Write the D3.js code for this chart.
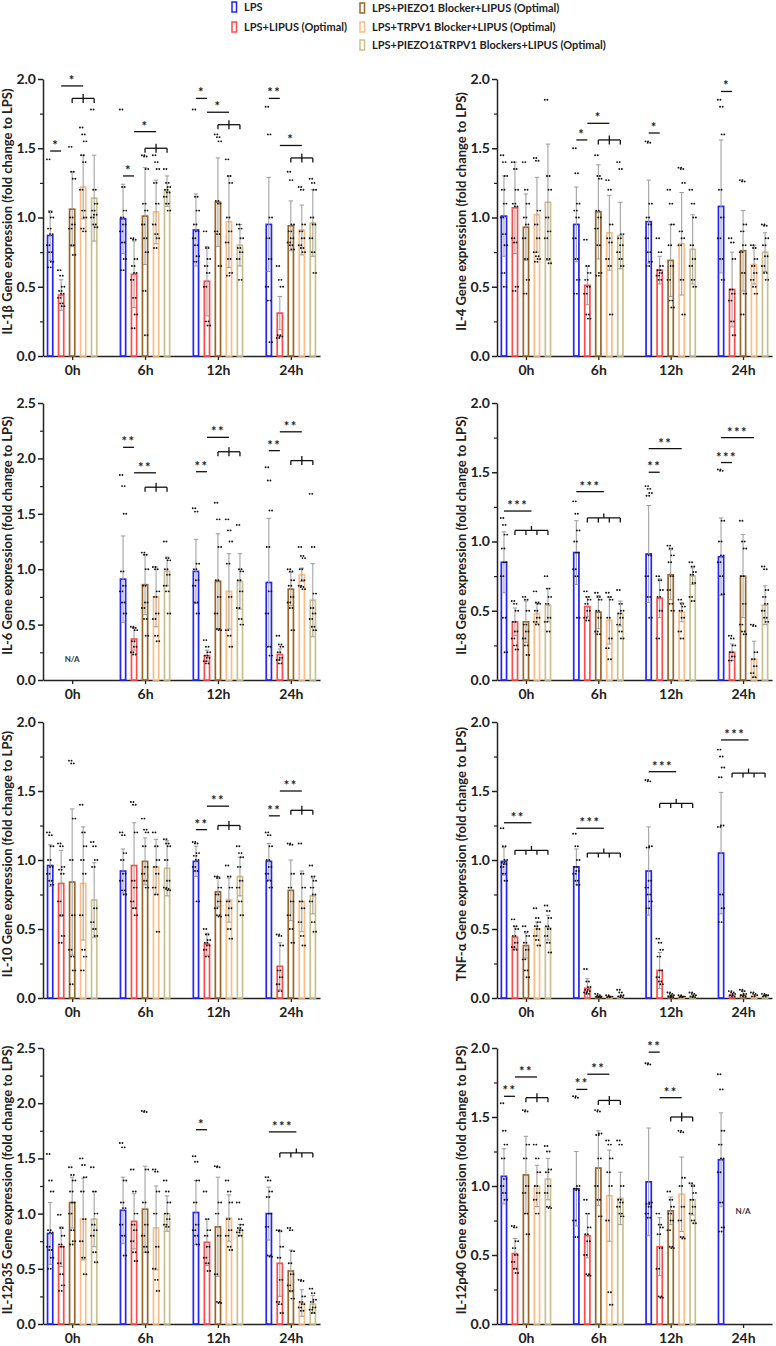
<!DOCTYPE html>
<html>
<head>
<meta charset="utf-8">
<script src="https://cdn.jsdelivr.net/npm/d3@7"></script>
<style>
  body { margin: 0; background: #fff; }
  text { font-family: Lato, "Open Sans", sans-serif; }
</style>
</head>
<body>
<div id="vis-container"></div>
<script>
// ---- data ----
const times = ["0h", "6h", "12h", "24h"];
const groups = ["LPS", "LPS+LIPUS (Optimal)", "LPS+PIEZO1 Blocker+LIPUS (Optimal)",
                "LPS+TRPV1 Blocker+LIPUS (Optimal)", "LPS+PIEZO1&TRPV1 Blockers+LIPUS (Optimal)"];
const colors = ["#2323ff", "#ff4b4b", "#9a6528", "#fbbd84", "#c9c08e"];

// means [time][group], sd [time][group]
const il1bMean = [[0.87,0.44,1.06,1.22,1.14],[0.99,0.59,1.01,1.04,1.19],[0.91,0.54,1.11,0.97,0.80],[0.95,0.31,0.94,0.91,0.96]];
const il1bSd   = [[0.18,0.11,0.27,0.23,0.31],[0.25,0.24,0.35,0.23,0.11],[0.26,0.25,0.32,0.33,0.15],[0.34,0.12,0.18,0.18,0.24]];
const il4Mean  = [[1.01,1.07,0.93,1.02,1.11],[0.95,0.51,1.04,0.89,0.87],[0.97,0.62,0.69,0.81,0.77],[1.08,0.48,0.76,0.66,0.75]];
const il4Sd    = [[0.29,0.33,0.24,0.27,0.42],[0.27,0.14,0.34,0.27,0.24],[0.30,0.10,0.26,0.37,0.25],[0.48,0.27,0.29,0.14,0.14]];
const il6Mean  = [[null,null,null,null,null],[0.91,0.37,0.86,0.75,0.98],[0.98,0.22,0.89,0.80,0.89],[0.88,0.23,0.82,0.95,0.72]];
const il6Sd    = [[0,0,0,0,0],[0.39,0.10,0.27,0.27,0.13],[0.29,0.05,0.43,0.34,0.25],[0.58,0.05,0.15,0.06,0.33]];
const il8Mean  = [[0.85,0.42,0.42,0.48,0.54],[0.92,0.53,0.49,0.43,0.48],[0.91,0.59,0.76,0.49,0.75],[0.89,0.20,0.75,0.15,0.54]];
const il8Sd    = [[0.22,0.10,0.15,0.07,0.12],[0.23,0.07,0.12,0.17,0.09],[0.35,0.14,0.18,0.07,0.06],[0.28,0.06,0.30,0.13,0.14]];
const il10Mean = [[0.96,0.83,0.84,0.83,0.71],[0.92,0.96,0.99,0.95,0.94],[0.99,0.39,0.77,0.71,0.88],[0.99,0.23,0.78,0.70,0.74]];
const il10Sd   = [[0.15,0.24,0.53,0.41,0.27],[0.16,0.31,0.17,0.20,0.20],[0.11,0.08,0.11,0.16,0.14],[0.13,0.17,0.22,0.22,0.13]];
const tnfMean  = [[0.99,0.44,0.38,0.50,0.51],[0.95,0.07,0.01,0.01,0.015],[0.92,0.20,0.015,0.01,0.015],[1.05,0.02,0.02,0.015,0.015]];
const tnfSd    = [[0.10,0.08,0.09,0.05,0.09],[0.13,0.07,0.01,0.005,0.01],[0.32,0.13,0.01,0.005,0.01],[0.44,0.01,0.03,0.01,0.01]];
const p35Mean  = [[0.82,0.70,1.10,0.95,0.95],[1.03,0.93,1.04,0.87,1.00],[1.01,0.74,0.88,0.96,0.85],[1.00,0.55,0.48,0.19,0.18]];
const p35Sd    = [[0.28,0.18,0.23,0.37,0.25],[0.30,0.25,0.39,0.38,0.16],[0.29,0.21,0.45,0.21,0.05],[0.24,0.30,0.19,0.12,0.08]];
const p40Mean  = [[1.07,0.51,1.08,1.00,1.05],[0.98,0.64,1.13,0.93,0.91],[1.03,0.56,0.82,0.94,0.90],[1.19,null,null,null,null]];
const p40Sd    = [[0.20,0.11,0.28,0.15,0.15],[0.27,0.16,0.27,0.33,0.19],[0.39,0.21,0.10,0.27,0.11],[0.34,0,0,0,0]];

// individual points [time][group][]
const il1bDots = [
  [[1.42,1.04,1.0,0.92,0.88,0.8,0.75,0.68,0.64],[0.62,0.58,0.5,0.47,0.45,0.42,0.38,0.36],[1.51,1.33,1.28,1.0,0.95,0.92,0.8,0.73],[1.65,1.6,1.55,1.45,1.4,1.2,1.05,1.0,0.92,0.9],[1.78,1.2,1.1,1.05,1.02,1.0,0.95,0.93]],
  [[1.78,1.22,1.05,1.0,0.95,0.9,0.82,0.7,0.62],[0.85,0.84,0.7,0.65,0.6,0.55,0.42,0.3,0.2],[1.45,1.44,1.35,1.1,1.05,0.95,0.85,0.75,0.47,0.15],[1.45,1.4,1.35,1.25,1.1,0.95,0.88,0.85,0.78],[1.35,1.25,1.22,1.2,1.18,1.15,1.1,1.05]],
  [[1.78,1.15,1.05,0.95,0.9,0.85,0.8,0.72,0.68],[0.9,0.78,0.7,0.65,0.6,0.5,0.25,0.22],[1.6,1.58,1.55,1.12,1.1,0.9,0.88,0.65],[1.42,1.3,1.25,1.0,0.9,0.82,0.7,0.6,0.58],[0.95,0.92,0.85,0.78,0.75,0.7,0.55]],
  [[1.8,1.6,1.0,0.85,0.7,0.5,0.4,0.1],[0.65,0.55,0.5,0.15,0.14,0.13],[1.33,1.27,0.95,0.9,0.85,0.82,0.8,0.77],[1.22,1.2,0.95,0.9,0.85,0.8,0.78,0.75],[1.28,1.25,1.2,1.0,0.95,0.85,0.75,0.6]]
];
const il4Dots = [
  [[1.45,1.4,1.3,1.2,1.1,1.0,0.88,0.8,0.6,0.5],[1.4,1.35,1.2,1.1,1.08,0.85,0.82,0.5,0.47],[1.4,1.2,1.1,1.0,0.95,0.85,0.7,0.55,0.45],[1.43,1.41,1.05,0.95,0.85,0.75,0.72,0.7,0.68],[1.85,1.3,1.2,1.0,0.9,0.85,0.7,0.67]],
  [[1.5,1.32,1.1,1.05,1.0,0.85,0.7,0.55,0.45],[0.84,0.65,0.6,0.55,0.5,0.45,0.3,0.27],[1.45,1.3,1.28,1.05,1.0,0.92,0.8,0.6,0.58],[1.27,1.2,0.95,0.85,0.82,0.7,0.65,0.3],[1.4,1.35,0.88,0.85,0.8,0.75,0.7,0.65]],
  [[1.55,1.54,1.1,1.0,0.95,0.85,0.75,0.68,0.65],[0.85,0.75,0.65,0.62,0.6,0.58,0.55],[1.2,1.1,0.95,0.8,0.65,0.55,0.4,0.35],[1.36,1.35,1.25,0.9,0.85,0.8,0.55,0.3],[1.2,1.1,1.0,0.8,0.7,0.65,0.55,0.5]],
  [[1.85,1.8,1.6,1.2,1.0,0.85,0.7,0.55],[0.85,0.82,0.7,0.48,0.45,0.4,0.25,0.15],[1.27,1.26,0.95,0.9,0.8,0.75,0.6,0.45,0.3],[0.8,0.78,0.7,0.65,0.6,0.55,0.5,0.45],[0.95,0.94,0.85,0.8,0.72,0.65,0.6,0.55]]
];
const il6Dots = [
  [[],[],[],[],[]],
  [[1.85,1.75,1.5,0.98,0.85,0.8,0.7,0.6],[0.48,0.47,0.45,0.35,0.3,0.25,0.23],[1.15,1.13,1.0,0.85,0.7,0.65,0.55,0.4],[1.02,1.0,0.8,0.75,0.6,0.55,0.4,0.35],[1.25,1.1,1.08,1.0,0.95,0.85,0.8,0.6]],
  [[1.55,1.52,1.05,1.0,0.9,0.85,0.7,0.6],[0.36,0.3,0.25,0.22,0.2,0.17,0.15],[1.6,1.45,1.2,0.9,0.75,0.6,0.46,0.45],[1.45,1.35,1.25,1.05,0.75,0.45,0.4,0.3],[1.4,1.0,0.98,0.9,0.8,0.65,0.55,0.5]],
  [[1.92,1.8,1.53,1.2,0.8,0.6,0.3,0.22],[0.4,0.32,0.3,0.25,0.2,0.18,0.15],[1.0,0.98,0.9,0.85,0.75,0.7,0.65,0.45],[1.2,1.12,1.1,1.0,0.9,0.85,0.84,0.82],[1.68,1.2,0.78,0.65,0.6,0.55,0.48,0.45]]
];
const il8Dots = [
  [[1.17,1.12,1.05,0.95,0.85,0.75,0.45,0.2],[0.57,0.55,0.5,0.42,0.35,0.3,0.25,0.22],[0.6,0.58,0.5,0.4,0.35,0.3,0.25,0.18],[0.64,0.56,0.55,0.5,0.45,0.42,0.4],[0.75,0.66,0.6,0.55,0.45,0.42,0.35]],
  [[1.29,1.2,1.08,1.0,0.92,0.8,0.75,0.45],[0.64,0.6,0.58,0.55,0.5,0.45,0.43],[0.63,0.6,0.58,0.5,0.45,0.35,0.33],[0.63,0.6,0.58,0.45,0.3,0.23,0.15],[0.65,0.55,0.5,0.48,0.45,0.4,0.35,0.3]],
  [[1.4,1.38,1.35,1.33,0.9,0.75,0.6,0.45],[0.75,0.72,0.65,0.6,0.5,0.3],[0.97,0.95,0.9,0.85,0.75,0.65,0.55,0.5],[0.58,0.55,0.53,0.5,0.45,0.35,0.3],[0.85,0.82,0.78,0.76,0.7,0.6,0.57]],
  [[1.52,1.51,1.15,1.0,0.9,0.85,0.75,0.62],[0.32,0.3,0.25,0.2,0.17,0.14],[1.15,1.0,0.95,0.75,0.55,0.4,0.35,0.33],[0.4,0.39,0.2,0.15,0.1,0.05,0.02],[0.82,0.8,0.65,0.6,0.55,0.5,0.45,0.42]]
];
const il10Dots = [
  [[1.2,1.18,1.1,1.0,0.95,0.9,0.85,0.82],[1.12,1.1,0.95,0.93,0.9,0.7,0.6,0.45,0.4],[1.72,1.7,1.3,1.0,0.6,0.35,0.3,0.2,0.1],[1.4,1.2,1.1,1.0,0.9,0.6,0.35,0.3,0.2],[1.13,1.1,1.0,0.95,0.65,0.55,0.5,0.45]],
  [[1.2,1.18,1.05,1.0,0.9,0.85,0.78,0.75],[1.42,1.4,1.2,0.85,0.8,0.7,0.65,0.6],[1.3,1.22,1.2,1.1,0.95,0.9,0.85,0.8],[1.2,1.1,1.0,0.95,0.9,0.8,0.75,0.48],[1.15,1.12,1.1,1.0,0.85,0.8,0.79,0.78]],
  [[1.13,1.12,1.05,1.03,1.0,0.95,0.92,0.7],[0.5,0.46,0.42,0.4,0.38,0.35,0.3],[0.88,0.87,0.8,0.75,0.7,0.65,0.6,0.59],[0.96,0.88,0.8,0.7,0.65,0.6,0.5,0.43],[1.1,1.05,1.02,0.95,0.85,0.8,0.7,0.6]],
  [[1.2,1.18,1.1,1.0,0.95,0.9,0.85,0.8],[0.46,0.45,0.38,0.2,0.15,0.1,0.05],[1.12,1.11,0.9,0.8,0.7,0.6,0.5,0.4],[1.12,0.9,0.8,0.7,0.65,0.55,0.45,0.38],[0.96,0.88,0.85,0.8,0.75,0.7,0.55,0.48]]
];
const tnfDots = [
  [[1.23,1.1,1.0,0.98,0.97,0.95,0.9,0.85],[0.57,0.52,0.5,0.45,0.4,0.37,0.35],[0.52,0.48,0.45,0.4,0.35,0.28,0.2,0.15],[0.65,0.58,0.55,0.52,0.5,0.45,0.42,0.38],[0.67,0.63,0.58,0.52,0.5,0.45,0.4,0.33]],
  [[1.19,1.1,1.0,0.95,0.92,0.9,0.85,0.82],[0.21,0.12,0.08,0.06,0.05,0.04,0.03],[0.03,0.02,0.01,0.01,0.005],[0.02,0.01,0.01,0.005],[0.06,0.04,0.02,0.01,0.005]],
  [[1.58,1.57,1.1,1.09,0.85,0.8,0.75,0.7,0.65],[0.43,0.4,0.35,0.3,0.2,0.15,0.12,0.1],[0.04,0.03,0.02,0.01,0.005],[0.02,0.01,0.01,0.005],[0.04,0.03,0.02,0.01,0.005]],
  [[1.8,1.75,1.67,1.6,1.25,1.24,0.75,0.65,0.55],[0.05,0.04,0.03,0.02,0.01],[0.06,0.05,0.03,0.02,0.01],[0.04,0.03,0.02,0.01],[0.03,0.02,0.02,0.01]]
];
const p35Dots = [
  [[1.54,1.3,1.2,0.85,0.83,0.7,0.67,0.6,0.5],[0.99,0.87,0.8,0.72,0.7,0.55,0.45,0.35,0.3],[1.42,1.35,1.3,1.2,1.1,1.0,0.85,0.75,0.72],[1.5,1.44,1.33,1.2,0.95,0.75,0.6,0.45],[1.42,1.2,1.0,0.9,0.85,0.8,0.65,0.56]],
  [[1.64,1.6,1.3,1.1,1.05,0.9,0.8,0.62],[1.4,1.2,1.0,0.9,0.85,0.75,0.65,0.57],[1.93,1.92,1.4,1.1,0.9,0.8,0.7,0.65],[1.4,1.38,1.2,1.0,0.7,0.5,0.4,0.3],[1.3,1.2,1.1,1.0,0.95,0.9,0.88]],
  [[1.52,1.47,1.3,1.1,0.9,0.85,0.8,0.72],[1.2,0.95,0.85,0.8,0.7,0.6,0.55,0.48],[1.43,1.42,1.1,1.0,0.8,0.45,0.2,0.19],[1.3,1.2,1.1,0.95,0.85,0.8,0.7,0.67],[1.1,0.95,0.9,0.87,0.85,0.83,0.8]],
  [[1.33,1.3,1.2,1.15,1.0,0.88,0.62,0.61],[0.85,0.84,0.7,0.6,0.4,0.2,0.18,0.1],[0.87,0.85,0.66,0.55,0.45,0.35,0.3,0.23],[0.4,0.39,0.25,0.2,0.18,0.15,0.12],[0.32,0.28,0.22,0.2,0.15,0.13,0.1]]
];
const p40Dots = [
  [[1.6,1.4,1.3,1.2,1.05,1.0,0.95,0.9],[0.71,0.7,0.6,0.55,0.5,0.45,0.4,0.37],[1.55,1.54,1.3,1.2,1.0,0.95,0.8,0.65],[1.3,1.2,1.1,1.0,0.95,0.9,0.8],[1.29,1.25,1.12,1.1,1.0,0.95,0.85,0.84]],
  [[1.65,1.64,1.0,0.98,0.97,0.75,0.63],[0.9,0.8,0.7,0.65,0.6,0.5,0.36,0.35],[1.55,1.54,1.38,1.37,1.2,1.0,0.9,0.78],[1.33,1.3,1.2,1.1,1.0,0.75,0.23,0.14],[1.33,1.3,1.0,0.9,0.88,0.85,0.8,0.78]],
  [[1.89,1.88,0.88,0.87,0.85,0.8,0.77],[0.8,0.72,0.7,0.65,0.55,0.4,0.2,0.19],[0.96,0.9,0.85,0.8,0.75,0.68,0.56,0.55],[1.4,1.39,1.06,1.0,0.85,0.75,0.63,0.62],[1.02,1.0,0.95,0.9,0.85,0.8,0.75,0.73]],
  [[1.81,1.7,1.4,1.3,1.2,1.1,0.88,0.7,0.67],[],[],[],[]]
];

// significance: [time, fromBar, toBar0, toBar1, lineY, bracketY, label]
const il1bSig = [[0,0,1,1,1.48,null,"*"],[0,1,2,4,1.95,1.86,"*"],[1,0,1,1,1.30,null,"*"],[1,1,2,4,1.62,1.50,"*"],
                 [2,0,1,1,1.86,null,"*"],[2,1,2,4,1.76,1.67,"*"],[3,0,1,1,1.86,null,"**"],[3,1,2,4,1.52,1.43,"*"]];
const il4Sig  = [[1,0,1,1,1.56,null,"*"],[1,1,2,4,1.68,1.56,"*"],[2,0,1,1,1.61,null,"*"],[3,0,1,1,1.91,null,"*"]];
const il6Sig  = [[1,0,1,1,2.10,null,"**"],[1,1,2,4,1.87,1.74,"**"],[2,0,1,1,1.88,null,"**"],[2,1,2,4,2.19,2.06,"**"],
                 [3,0,1,1,2.07,null,"**"],[3,1,2,4,2.24,1.98,"**"]];
const il8Sig  = [[0,0,1,4,1.22,1.08,"***"],[1,0,1,4,1.36,1.17,"***"],[2,0,1,1,1.50,null,"**"],[2,0,3,3,1.67,null,"**"],
                 [3,0,1,1,1.57,null,"***"],[3,0,3,3,1.75,null,"***"]];
const il10Sig = [[2,0,1,1,1.22,null,"**"],[2,1,2,4,1.39,1.25,"**"],[3,0,1,1,1.32,null,"**"],[3,1,2,4,1.50,1.36,"**"]];
const tnfSig  = [[0,0,1,4,1.27,1.07,"**"],[1,0,1,4,1.23,1.05,"***"],[2,0,1,4,1.64,1.41,"***"],[3,0,1,4,1.87,1.63,"***"]];
const p35Sig  = [[2,0,1,1,1.76,null,"*"],[3,0,1,4,1.74,1.55,"***"]];
const p40Sig  = [[0,0,1,1,1.65,null,"**"],[0,1,2,4,1.79,1.64,"**"],[1,0,1,1,1.70,null,"**"],[1,1,2,4,1.81,1.62,"**"],
                 [2,0,1,1,1.97,null,"**"],[2,1,2,4,1.64,1.50,"**"]];

const panels = [
  {gene: "IL-1β",    yMax: 2.0, mean: il1bMean, sd: il1bSd, dots: il1bDots, sig: il1bSig, col: 0, row: 0},
  {gene: "IL-4",     yMax: 2.0, mean: il4Mean,  sd: il4Sd,  dots: il4Dots,  sig: il4Sig,  col: 1, row: 0},
  {gene: "IL-6",     yMax: 2.5, mean: il6Mean,  sd: il6Sd,  dots: il6Dots,  sig: il6Sig,  col: 0, row: 1, na: [0, 0.19]},
  {gene: "IL-8",     yMax: 2.0, mean: il8Mean,  sd: il8Sd,  dots: il8Dots,  sig: il8Sig,  col: 1, row: 1},
  {gene: "IL-10",    yMax: 2.0, mean: il10Mean, sd: il10Sd, dots: il10Dots, sig: il10Sig, col: 0, row: 2},
  {gene: "TNF-α",    yMax: 2.0, mean: tnfMean,  sd: tnfSd,  dots: tnfDots,  sig: tnfSig,  col: 1, row: 2},
  {gene: "IL-12p35", yMax: 2.5, mean: p35Mean,  sd: p35Sd,  dots: p35Dots,  sig: p35Sig,  col: 0, row: 3},
  {gene: "IL-12p40", yMax: 2.0, mean: p40Mean,  sd: p40Sd,  dots: p40Dots,  sig: p40Sig,  col: 1, row: 3, na: [3, 0.82]}
];

// ---- layout ----
const W = 776, H = 1346;
const colX = [[43, 320], [497, 772]];
const rowY = [[79, 356], [403, 680], [722, 998], [1048, 1324]];

let svg = d3.select("#vis-container")
            .append("svg")
            .attr("width", W)
            .attr("height", H);

// legend
const legendPos = [[232, 7], [232, 27], [360, 8], [360, 27], [360, 45]];
let legend = svg.append("g");
groups.forEach((g, i) => {
  legend.append("rect")
    .attr("x", legendPos[i][0]).attr("y", legendPos[i][1] - 5)
    .attr("width", 4.5).attr("height", 10)
    .attr("fill", "none").attr("stroke", colors[i]).attr("stroke-width", 1.5);
  legend.append("text")
    .attr("x", legendPos[i][0] + 12).attr("y", legendPos[i][1] + 4)
    .attr("font-size", "11px").attr("font-weight", 700).attr("fill", "#222")
    .text(g);
});

const xb = d3.scaleBand().domain(d3.range(5)).range([-27.5, 27.5]).paddingInner(0.4).paddingOuter(0.2);

panels.forEach(p => {
  const [ax, axEnd] = colX[p.col];
  const [top, bottom] = rowY[p.row];
  const x = d3.scalePoint().domain(times).range([ax, axEnd]).padding(0.4);
  const y = d3.scaleLinear().domain([0, p.yMax]).range([bottom, top]);
  const cx = (t, g) => x(times[t]) + xb(g) + xb.bandwidth() / 2;
  const g = svg.append("g");

  // y axis, minor ticks first
  const minor = d3.range(0.25, p.yMax, 0.5);
  g.append("g")
    .attr("transform", `translate(${ax},0)`)
    .call(d3.axisLeft(y).tickValues(minor).tickSize(3).tickFormat(""))
    .call(a => a.select(".domain").remove())
    .selectAll("line").attr("stroke", "#222").attr("stroke-width", 1.2);
  const ya = g.append("g")
    .attr("transform", `translate(${ax},0)`)
    .call(d3.axisLeft(y).tickValues(d3.range(0, p.yMax + 0.01, 0.5)).tickSize(5).tickSizeOuter(0).tickFormat(d3.format(".1f")));
  ya.select(".domain").attr("stroke", "#222").attr("stroke-width", 1.5);
  ya.selectAll("line").attr("stroke", "#222").attr("stroke-width", 1.5);
  ya.selectAll("text").attr("font-size", "14px").attr("font-weight", 700).attr("fill", "#222")
    .attr("font-family", "Lato, sans-serif").attr("x", -7);

  // x axis
  const xa = g.append("g")
    .attr("transform", `translate(0,${bottom})`)
    .call(d3.axisBottom(x).tickSize(4).tickSizeOuter(0));
  xa.select(".domain").attr("stroke", "#222").attr("stroke-width", 1.5);
  xa.selectAll("line").attr("stroke", "#222").attr("stroke-width", 1.3);
  xa.selectAll("text").attr("font-size", "14px").attr("font-weight", 700).attr("fill", "#222")
    .attr("font-family", "Lato, sans-serif").attr("y", 9);

  // y title
  g.append("text")
    .attr("transform", `translate(${ax - 31},${(top + bottom) / 2 - 6}) rotate(-90)`)
    .attr("text-anchor", "middle")
    .attr("font-size", "13px").attr("font-weight", 700).attr("fill", "#222")
    .text(p.gene + " Gene expression (fold change to LPS)");

  // bars, error bars, dots
  p.mean.forEach((row, t) => {
    row.forEach((m, k) => {
      if (m === null) return;
      const c = cx(t, k);
      g.append("rect")
        .attr("x", c - 2.6).attr("width", 5.2)
        .attr("y", y(m)).attr("height", y(0) - y(m))
        .attr("fill", "#fff").attr("stroke", colors[k]).attr("stroke-width", 1.7);
    });
  });
  p.mean.forEach((row, t) => {
    row.forEach((m, k) => {
      if (m === null) return;
      const s = p.sd[t][k];
      if (s <= 0.012) return;
      const c = cx(t, k);
      const lo = Math.max(0, m - s), hi = m + s;
      g.append("line").attr("x1", c).attr("x2", c).attr("y1", y(lo)).attr("y2", y(hi))
        .attr("stroke", "#9a9a9a").attr("stroke-width", 1);
      [lo, hi].forEach(v => g.append("line").attr("x1", c - 2.2).attr("x2", c + 2.2)
        .attr("y1", y(v)).attr("y2", y(v)).attr("stroke", "#9a9a9a").attr("stroke-width", 1));
    });
  });
  const jit = [-1.9, 0.3, 1.9, -0.8, 1.2];
  p.dots.forEach((row, t) => {
    row.forEach((vals, k) => {
      const c = cx(t, k);
      vals.forEach((v, i) => {
        const c0 = c + jit[i % 5];
        [-1.3, 1.3].forEach(o => {
          g.append("circle").attr("cx", c0 + o).attr("cy", y(v)).attr("r", 0.95).attr("fill", "#111");
        });
      });
    });
  });

  // significance lines and brackets
  p.sig.forEach(([t, a, b0, b1, ly, by, lab]) => {
    const xa0 = cx(t, a);
    let xEnd = cx(t, b0);
    if (b1 !== b0) {
      const bl = cx(t, b0), br = cx(t, b1), bc = (bl + br) / 2;
      xEnd = bc;
      g.append("line").attr("x1", bl).attr("x2", br).attr("y1", y(by)).attr("y2", y(by))
        .attr("stroke", "#111").attr("stroke-width", 1.3);
      d3.range(b0, b1 + 1).forEach(k => {
        g.append("line").attr("x1", cx(t, k)).attr("x2", cx(t, k))
          .attr("y1", y(by)).attr("y2", y(by) + 4.5).attr("stroke", "#111").attr("stroke-width", 1.3);
      });
      g.append("line").attr("x1", bc).attr("x2", bc)
        .attr("y1", y(by)).attr("y2", y(by) - 4.5).attr("stroke", "#111").attr("stroke-width", 1.3);
    }
    g.append("line").attr("x1", xa0).attr("x2", xEnd).attr("y1", y(ly)).attr("y2", y(ly))
      .attr("stroke", "#111").attr("stroke-width", 1.3);
    g.append("text")
      .attr("x", (xa0 + xEnd) / 2).attr("y", y(ly) - 1)
      .attr("text-anchor", "middle").attr("font-size", "13px").attr("font-weight", 700)
      .attr("letter-spacing", "1.5px").attr("fill", "#222")
      .text(lab);
  });

  if (p.na) {
    g.append("text")
      .attr("x", x(times[p.na[0]])).attr("y", y(p.na[1]) + 3)
      .attr("text-anchor", "middle").attr("font-size", "8px").attr("font-weight", 700).attr("fill", "#333")
      .text("N/A");
  }
});
</script>
</body>
</html>
